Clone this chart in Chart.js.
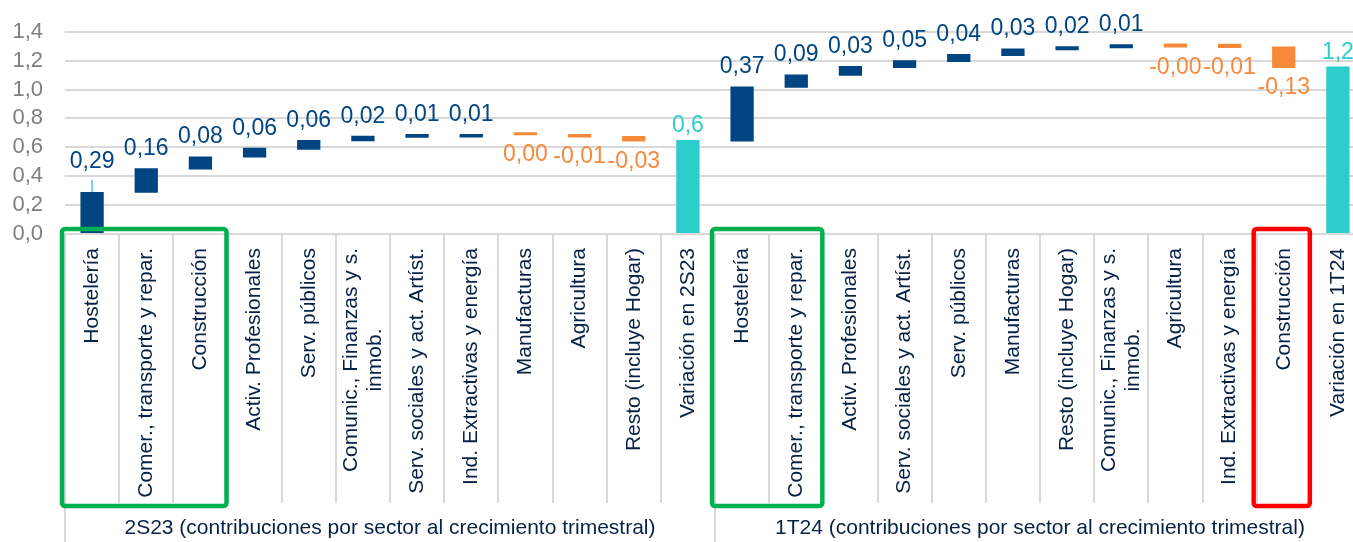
<!DOCTYPE html>
<html lang="es">
<head>
<meta charset="utf-8">
<title>Contribuciones por sector al crecimiento trimestral</title>
<script src="https://cdn.jsdelivr.net/npm/chart.js@4.4.1/dist/chart.umd.min.js"></script>
<style>
  html, body { margin: 0; padding: 0; background: #fff; overflow: hidden; }
  #wrap { width: 1365px; height: 542px; }
</style>
</head>
<body>
<div id="wrap"><canvas id="chart" width="1365" height="542"></canvas></div>
<script>
const categories = [
  'Hostelería', 'Comer., transporte y repar.', 'Construcción', 'Activ. Profesionales',
  'Serv. públicos', ['Comunic., Finanzas y s.', 'inmob.'], 'Serv. sociales y act. Artíst.',
  'Ind. Extractivas y energía', 'Manufacturas', 'Agricultura', 'Resto (incluye Hogar)', 'Variación en 2S23',
  'Hostelería', 'Comer., transporte y repar.', 'Activ. Profesionales', 'Serv. sociales y act. Artíst.',
  'Serv. públicos', 'Manufacturas', 'Resto (incluye Hogar)', ['Comunic., Finanzas y s.', 'inmob.'],
  'Agricultura', 'Ind. Extractivas y energía', 'Construcción', 'Variación en 1T24'
];
const groupLabels = [
  '2S23 (contribuciones por sector al crecimiento trimestral)',
  '1T24 (contribuciones por sector al crecimiento trimestral)'
];
// tramo de cada barra (inicio y fin acumulados)
const barLow  = [0, 0.285, 0.447, 0.530, 0.583, 0.642, 0.666, 0.668, 0.683, 0.668, 0.640, 0,
                 0.640, 1.012, 1.095, 1.148, 1.190, 1.231, 1.272, 1.286, 1.290, 1.288, 1.148, 0];
const barHigh = [0.290, 0.455, 0.537, 0.597, 0.650, 0.680, 0.692, 0.692, 0.705, 0.692, 0.678, 0.650,
                 1.021, 1.104, 1.162, 1.203, 1.245, 1.284, 1.300, 1.314, 1.318, 1.316, 1.297, 1.159];
const valueLabels = ['0,29', '0,16', '0,08', '0,06', '0,06', '0,02', '0,01', '0,01', '0,00', '-0,01', '-0,03', '0,6',
                     '0,37', '0,09', '0,03', '0,05', '0,04', '0,03', '0,02', '0,01', '-0,00', '-0,01', '-0,13', '1,2'];
const kinds = ['up', 'up', 'up', 'up', 'up', 'up', 'up', 'up', 'down', 'down', 'down', 'total',
               'up', 'up', 'up', 'up', 'up', 'up', 'up', 'up', 'down', 'down', 'down', 'total'];
const yTicks = [0, 0.2, 0.4, 0.6, 0.8, 1.0, 1.2, 1.4];
const leaderAt = [0];
const highlightBoxes = [
  {from: 0, to: 2, color: '#00B050'},
  {from: 12, to: 13, color: '#00B050'},
  {from: 22, to: 22, color: '#FF0000'}
];

const COLORS = {up: '#004481', down: '#F7893B', total: '#2DCCCD'};
const NAVY = '#072146';
const GRID = '#D9D9D9';
const FONT = '"Liberation Sans", Arial, sans-serif';
const LABEL_GAP = 14;   // distancia del eje a las etiquetas de categoría

Chart.defaults.font.family = FONT;

const valueLabelPlugin = {
  id: 'valueLabels',
  afterDatasetsDraw(chart) {
    const ctx = chart.ctx;
    const meta = chart.getDatasetMeta(0);
    ctx.save();
    ctx.font = '23px ' + FONT;
    ctx.textAlign = 'center';
    ctx.textBaseline = 'alphabetic';
    meta.data.forEach((bar, i) => {
      const kind = kinds[i];
      const top = Math.min(bar.y, bar.base);
      const bottom = Math.max(bar.y, bar.base);
      let y;
      if (kind === 'down') {
        y = bottom + 26;
      } else {
        y = top - (kind === 'total' ? 8 : 13);
        if (leaderAt.includes(i)) {
          ctx.strokeStyle = '#5BBEFF';
          ctx.lineWidth = 1.5;
          ctx.beginPath();
          ctx.moveTo(bar.x, top);
          ctx.lineTo(bar.x, top - 12);
          ctx.stroke();
          y -= 11;
        }
      }
      ctx.fillStyle = COLORS[kind];
      ctx.fillText(valueLabels[i], bar.x, y);
    });
    ctx.restore();
  }
};

// etiquetas de dos líneas: la segunda centrada bajo la primera, como en Excel
const multiLinePlugin = {
  id: 'multiLineTicks',
  afterDraw(chart) {
    const x = chart.scales.x;
    const ctx = chart.ctx;
    const lh = 24;
    ctx.save();
    ctx.font = '21px ' + FONT;
    ctx.fillStyle = NAVY;
    ctx.textBaseline = 'middle';
    categories.forEach((c, i) => {
      if (!Array.isArray(c)) return;
      const w1 = ctx.measureText(c[0]).width;
      ctx.save();
      ctx.translate(x.getPixelForTick(i), x.top + LABEL_GAP);
      ctx.rotate(-Math.PI / 2);
      ctx.textAlign = 'right';
      ctx.fillText(c[0], 0, -lh / 2);
      ctx.textAlign = 'center';
      ctx.fillText(c[1], -w1 / 2, lh / 2);
      ctx.restore();
    });
    ctx.restore();
  }
};

const boxPlugin = {
  id: 'highlightBoxes',
  afterDraw(chart) {
    const x = chart.scales.x;
    const ctx = chart.ctx;
    const step = x.width / categories.length;
    ctx.save();
    ctx.lineWidth = 4.5;
    ctx.lineJoin = 'round';
    highlightBoxes.forEach(b => {
      const left = x.getPixelForTick(b.from) - step / 2 - 3;
      const right = x.getPixelForTick(b.to) + step / 2 - 1;
      const top = x.top - 5;
      const bottom = x.bottom + 3;
      ctx.strokeStyle = b.color;
      ctx.beginPath();
      ctx.roundRect(left, top, right - left, bottom - top, 3);
      ctx.stroke();
    });
    ctx.restore();
  }
};

new Chart(document.getElementById('chart'), {
  type: 'bar',
  data: {
    labels: categories,
    datasets: [{
      data: barLow.map((lo, i) => [lo, barHigh[i]]),
      backgroundColor: kinds.map(k => COLORS[k]),
      barPercentage: 0.43,
      categoryPercentage: 1,
      xAxisID: 'x',
      yAxisID: 'y'
    }]
  },
  options: {
    responsive: false,
    animation: false,
    devicePixelRatio: 1,
    layout: {padding: {top: 31.7, left: 0, right: 0, bottom: 0}},
    plugins: {legend: {display: false}, tooltip: {enabled: false}},
    scales: {
      x: {
        type: 'category',
        position: 'bottom',
        weight: 0,
        offset: true,
        grid: {offset: true, drawOnChartArea: false, drawTicks: true, tickLength: 269, color: GRID, lineWidth: 2},
        border: {display: true, color: GRID, width: 2},
        ticks: {
          autoSkip: false, maxRotation: 90, minRotation: 90, padding: LABEL_GAP - 269,
          color: c => Array.isArray(categories[c.index]) ? 'rgba(0,0,0,0)' : NAVY,
          font: {size: 21}
        },
        afterFit: s => { s.height = 269; }
      },
      groups: {
        type: 'category',
        position: 'bottom',
        weight: 1,
        offset: true,
        labels: groupLabels,
        grid: {offset: true, drawOnChartArea: false, drawTicks: true, tickLength: 39, color: GRID, lineWidth: 2},
        border: {display: false},
        ticks: {autoSkip: false, maxRotation: 0, padding: -26, color: NAVY, font: {size: 21}},
        afterFit: s => { s.height = 39; }
      },
      y: {
        min: 0,
        max: 1.4,
        grid: {color: GRID, lineWidth: 2, drawTicks: false},
        border: {display: false},
        ticks: {
          autoSkip: false,
          stepSize: 0.2,
          padding: 22,
          color: '#7F7F7F',
          font: {size: 22},
          callback: v => v.toFixed(1).replace('.', ',')
        },
        afterBuildTicks: s => { s.ticks = yTicks.map(v => ({value: v})); },
        afterFit: s => { s.width = 65; s.paddingTop = 0; s.paddingBottom = 0; }
      }
    }
  },
  plugins: [valueLabelPlugin, multiLinePlugin, boxPlugin]
});
</script>
</body>
</html>
